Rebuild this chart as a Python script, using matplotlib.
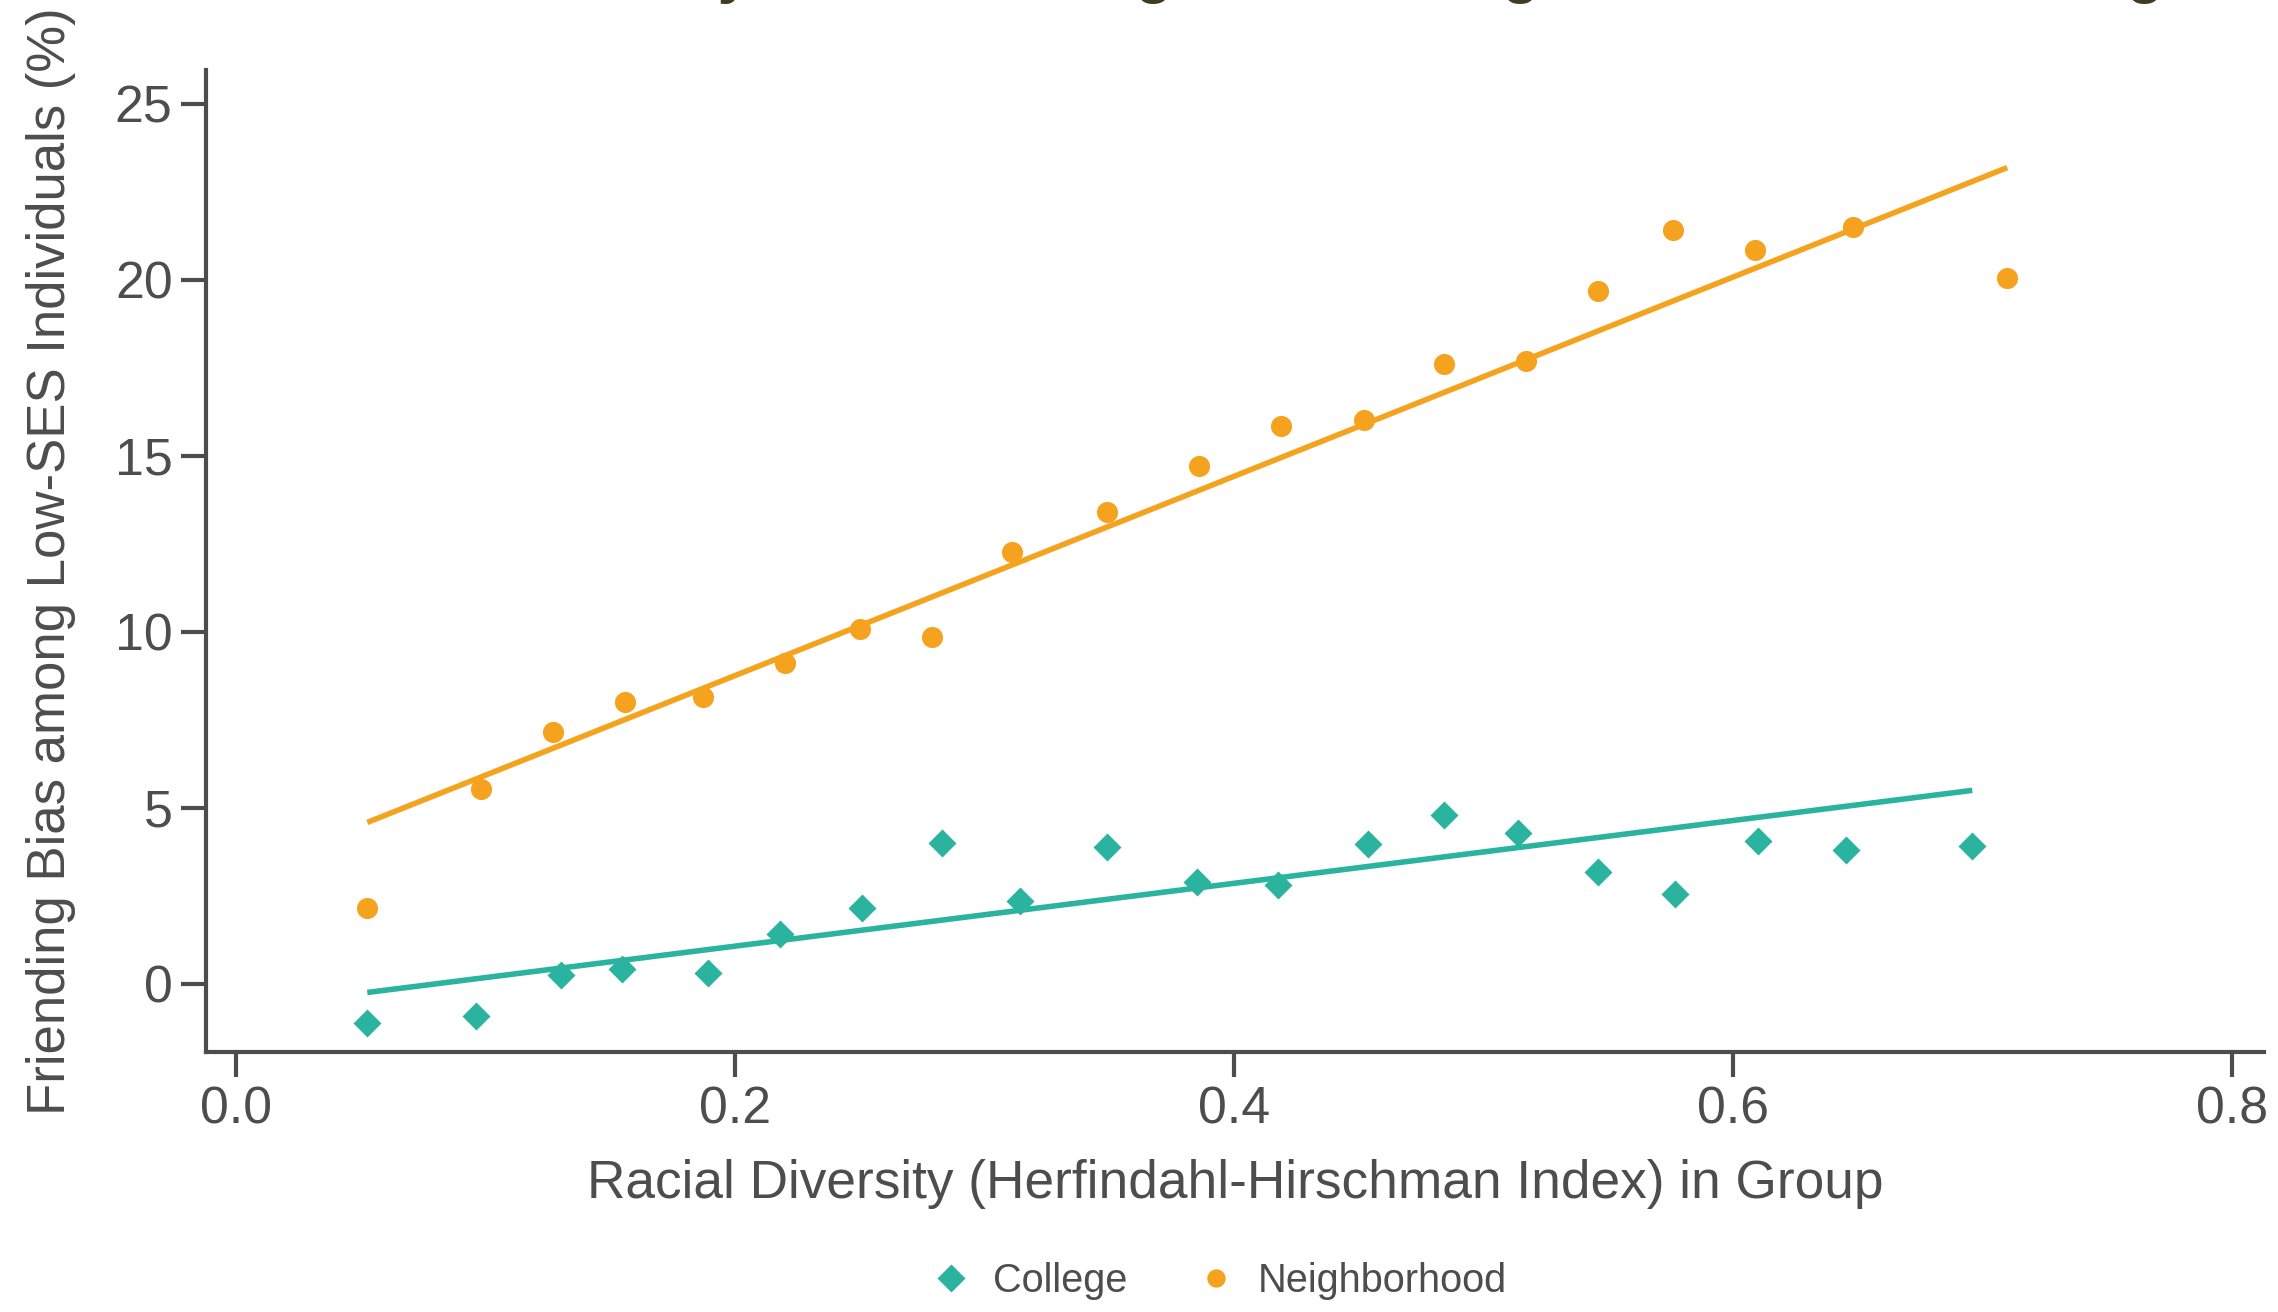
import matplotlib
matplotlib.use("Agg")
import matplotlib.pyplot as plt
from matplotlib.lines import Line2D

plt.rcParams["font.family"] = ["Liberation Sans", "DejaVu Sans"]

TEXT = "#4d4d4d"
ORANGE = "#f5a31f"
TEAL = "#2ab39f"

# binned scatter
nbhd_x = [0.0525, 0.098, 0.127, 0.156, 0.187, 0.220, 0.250, 0.279, 0.311, 0.349,
          0.386, 0.419, 0.452, 0.484, 0.517, 0.546, 0.576, 0.609, 0.648, 0.710]
nbhd_y = [2.15, 5.53, 7.14, 8.00, 8.13, 9.12, 10.07, 9.86, 12.25, 13.41,
          14.69, 15.84, 16.00, 17.60, 17.70, 19.68, 21.41, 20.83, 21.49, 20.05]

college_x = [0.0525, 0.096, 0.130, 0.1545, 0.189, 0.218, 0.251, 0.283, 0.314, 0.349,
             0.385, 0.4175, 0.4536, 0.484, 0.514, 0.546, 0.577, 0.610, 0.6455, 0.696]
college_y = [-1.11, -0.91, 0.25, 0.41, 0.29, 1.40, 2.15, 4.00, 2.35, 3.88,
             2.89, 2.81, 3.96, 4.79, 4.29, 3.18, 2.56, 4.04, 3.80, 3.92]

# fitted lines (end points)
nbhd_fit_x = [0.0525, 0.710]
nbhd_fit_y = [4.58, 23.18]
college_fit_x = [0.0525, 0.696]
college_fit_y = [-0.25, 5.49]

x_ticks = [0.0, 0.2, 0.4, 0.6, 0.8]
y_ticks = [0, 5, 10, 15, 20, 25]

fig = plt.figure(figsize=(11.39, 6.56), dpi=200)
ax = fig.add_axes([0.0904, 0.1982, 0.9035, 0.7484])

ax.plot(nbhd_fit_x, nbhd_fit_y, color=ORANGE, lw=2.0, solid_capstyle="butt", zorder=2)
ax.plot(college_fit_x, college_fit_y, color=TEAL, lw=2.0, solid_capstyle="butt", zorder=2)
ax.plot(nbhd_x, nbhd_y, "o", color=ORANGE, ms=7.6, mec="none", zorder=3)
ax.plot(college_x, college_y, "D", color=TEAL, ms=7.2, mec="none", zorder=3)

ax.set_xlim(-0.0122, 0.813)
ax.set_ylim(-1.94, 25.95)
ax.set_xticks(x_ticks)
ax.set_xticklabels([f"{t:.1f}" for t in x_ticks])
ax.set_yticks(y_ticks)

for s in ["top", "right"]:
    ax.spines[s].set_visible(False)
for s in ["left", "bottom"]:
    ax.spines[s].set_color(TEXT)
    ax.spines[s].set_linewidth(1.5)

ax.tick_params(colors=TEXT, labelsize=18.7, length=9, width=1.5, pad=3)

ax.set_xlabel("Racial Diversity (Herfindahl-Hirschman Index) in Group",
              fontsize=19.2, color=TEXT, labelpad=9)
ax.set_ylabel("Friending Bias among Low-SES Individuals (%)",
              fontsize=19, color=TEXT, labelpad=14)

# title sits almost fully above the top edge, as in the source image
fig.text(0.555, 1.007, "Racial Diversity and Friending Bias in Neighborhoods vs. Colleges",
         ha="center", va="baseline", fontsize=22, fontweight="bold", color="#403c22")

handles = [
    Line2D([], [], ls="none", marker="D", color=TEAL, ms=7.0, mec="none", label="College"),
    Line2D([], [], ls="none", marker="o", color=ORANGE, ms=6.6, mec="none", label="Neighborhood"),
]
fig.legend(handles=handles, loc="center", bbox_to_anchor=(0.533, 0.0236), ncol=2,
           frameon=False, fontsize=14.3, labelcolor=TEXT, handletextpad=0.3,
           columnspacing=1.5, handlelength=1.5)

fig.savefig("out.png", dpi=200)
